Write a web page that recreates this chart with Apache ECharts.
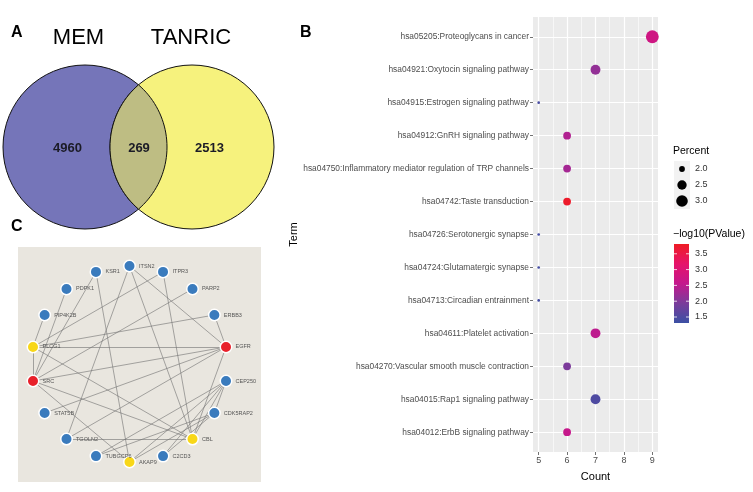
<!DOCTYPE html>
<html>
<head>
<meta charset="utf-8">
<script src="https://cdn.jsdelivr.net/npm/echarts@6/dist/echarts.min.js"></script>
<style>
  html, body { margin: 0; padding: 0; background: #fff; }
  #chart { width: 753px; height: 492px; }
</style>
</head>
<body>
<div id="chart"></div>
<script>
// --- A: Venn ---
const vennSets = ['MEM', 'TANRIC'];
const vennCounts = [4960, 269, 2513]; // MEM only, overlap, TANRIC only

// --- B: KEGG dot plot (top to bottom) ---
const terms = [
  'hsa05205:Proteoglycans in cancer',
  'hsa04921:Oxytocin signaling pathway',
  'hsa04915:Estrogen signaling pathway',
  'hsa04912:GnRH signaling pathway',
  'hsa04750:Inflammatory mediator regulation of TRP channels',
  'hsa04742:Taste transduction',
  'hsa04726:Serotonergic synapse',
  'hsa04724:Glutamatergic synapse',
  'hsa04713:Circadian entrainment',
  'hsa04611:Platelet activation',
  'hsa04270:Vascular smooth muscle contraction',
  'hsa04015:Rap1 signaling pathway',
  'hsa04012:ErbB signaling pathway'
];
const counts = [9, 7, 5, 6, 6, 6, 5, 5, 5, 7, 6, 7, 6];
const percents = [3.35, 2.60, 1.86, 2.23, 2.23, 2.23, 1.86, 1.86, 1.86, 2.60, 2.23, 2.60, 2.23];
const logP = [2.75, 2.15, 1.45, 2.4, 2.3, 3.75, 1.4, 1.4, 1.4, 2.5, 1.95, 1.5, 2.6];
const countTicks = [5, 6, 7, 8, 9];
const countMinor = [5.5, 6.5, 7.5, 8.5];
const percentBreaks = [2.0, 2.5, 3.0];
const logPBreaks = [1.5, 2.0, 2.5, 3.0, 3.5];

// --- C: network (order = clockwise from 3 o'clock) ---
const nodes = ['CEP250', 'CDK5RAP2', 'CBL', 'C2CD3', 'AKAP9', 'TUBGCP6', 'TGOLN2', 'STAT5B', 'SRC',
  'PLCG1', 'PIP4K2B', 'PDPK1', 'KSR1', 'ITSN2', 'ITPR3', 'PARP2', 'ERBB3', 'EGFR'];
const redNodes = ['EGFR', 'SRC'];
const yellowNodes = ['CBL', 'AKAP9', 'PLCG1'];
const links = [
  ['PLCG1', 'EGFR'], ['PLCG1', 'SRC'], ['PLCG1', 'PIP4K2B'], ['PLCG1', 'ERBB3'], ['PLCG1', 'ITPR3'], ['PLCG1', 'CBL'],
  ['SRC', 'EGFR'], ['SRC', 'CBL'], ['SRC', 'AKAP9'], ['SRC', 'PDPK1'], ['SRC', 'KSR1'], ['SRC', 'PARP2'],
  ['EGFR', 'ERBB3'], ['EGFR', 'ITSN2'], ['EGFR', 'STAT5B'], ['EGFR', 'TGOLN2'], ['EGFR', 'CBL'],
  ['ITSN2', 'CBL'], ['ITSN2', 'TGOLN2'], ['ITPR3', 'CBL'], ['KSR1', 'AKAP9'], ['TGOLN2', 'CBL'],
  ['CEP250', 'CDK5RAP2'], ['CEP250', 'CBL'], ['CEP250', 'C2CD3'], ['CEP250', 'AKAP9'], ['CEP250', 'TUBGCP6'],
  ['CDK5RAP2', 'AKAP9'], ['CDK5RAP2', 'TUBGCP6'], ['CDK5RAP2', 'C2CD3']
];

const font = 'Liberation Sans, Arial, sans-serif';
const pvalColors = ['#3b50a4', '#7a3c9b', '#c4188d', '#e6136a', '#ee1c24'];
const pvalMin = 1.31, pvalMax = 3.81;

const pMin = Math.min(...percents), pMax = Math.max(...percents);
function dotSize(p) {
  // ggplot scale_size area mapping, range 1..6
  const s = 1 + 5 * Math.sqrt(Math.max(0, (p - pMin) / (pMax - pMin)));
  return 2.05 * s + 0.6;
}

function txt(text, x, y, size, opts) {
  opts = opts || {};
  return {
    type: 'text', x: x, y: y, silent: true,
    style: {
      text: text, fill: opts.color || '#000',
      font: (opts.weight || 'normal') + ' ' + size + 'px ' + font,
      textAlign: opts.align || 'left', align: opts.align || 'left',
      textVerticalAlign: 'middle', verticalAlign: 'middle'
    }
  };
}

// Venn geometry: overlap lens as polygon along both arcs
const vy = 147, vr = 82, vxL = 85, vxR = 192;
const xm = (vxL + vxR) / 2;
const half = Math.acos((xm - vxL) / vr);
const lensPts = [];
for (let k = 0; k <= 40; k++) {
  const a = -half + 2 * half * k / 40;            // left circle, right side
  lensPts.push([vxL + vr * Math.cos(a), vy + vr * Math.sin(a)]);
}
for (let k = 0; k <= 40; k++) {
  const a = Math.PI - half + 2 * half * k / 40;   // right circle, left side
  lensPts.push([vxR + vr * Math.cos(a), vy + vr * Math.sin(a)]);
}

const graphics = [
  txt('A', 11, 33, 16, { weight: 'bold' }),
  txt('B', 300, 33, 16, { weight: 'bold' }),
  txt('C', 11, 227, 16, { weight: 'bold' }),
  txt(vennSets[0], 78.5, 38, 22, { align: 'center' }),
  txt(vennSets[1], 191, 38, 22, { align: 'center' }),
  { type: 'circle', shape: { cx: vxL, cy: vy, r: vr }, style: { fill: '#7575b9', stroke: '#111', lineWidth: 1 }, silent: true },
  { type: 'circle', shape: { cx: vxR, cy: vy, r: vr }, style: { fill: '#f6f27d', stroke: '#111', lineWidth: 1 }, silent: true },
  { type: 'polygon', shape: { points: lensPts }, style: { fill: '#bebd83', stroke: '#111', lineWidth: 1 }, silent: true },
  txt(String(vennCounts[0]), 67.5, 148, 13, { weight: 'bold', align: 'center', color: '#1b1b26' }),
  txt(String(vennCounts[1]), 139, 148, 13, { weight: 'bold', align: 'center', color: '#1b1b26' }),
  txt(String(vennCounts[2]), 209.5, 148, 13, { weight: 'bold', align: 'center', color: '#1b1b26' }),
  // network panel background
  { type: 'rect', shape: { x: 18, y: 247, width: 243, height: 235 }, style: { fill: '#e9e6df' }, silent: true },
  // size legend
  txt('Percent', 673, 151, 10.5)
];
percentBreaks.forEach((p, i) => {
  const cy = 169 + i * 16;
  graphics.push({ type: 'rect', shape: { x: 674, y: cy - 8, width: 16, height: 16 }, style: { fill: '#f2f2f2' }, silent: true });
  graphics.push({ type: 'circle', shape: { cx: 682, cy: cy, r: dotSize(p) / 2 }, style: { fill: '#000' }, silent: true });
  graphics.push(txt(p.toFixed(1), 695, cy, 9, { color: '#333' }));
});
// colour legend
const barX = 674, barTop = 244, barH = 79, barW = 15;
graphics.push(txt('\u2212log10(PValue)', 673, 234, 10.5));
graphics.push({
  type: 'rect', shape: { x: barX, y: barTop, width: barW, height: barH }, silent: true,
  style: {
    fill: {
      type: 'linear', x: 0, y: 1, x2: 0, y2: 0,
      colorStops: pvalColors.map((c, i) => ({ offset: i / (pvalColors.length - 1), color: c }))
    }
  }
});
logPBreaks.forEach(v => {
  const y = barTop + barH - (v - pvalMin) / (pvalMax - pvalMin) * barH;
  graphics.push({ type: 'line', shape: { x1: barX, y1: y, x2: barX + 3, y2: y }, style: { stroke: '#fff', lineWidth: 0.8 }, silent: true });
  graphics.push({ type: 'line', shape: { x1: barX + barW - 3, y1: y, x2: barX + barW, y2: y }, style: { stroke: '#fff', lineWidth: 0.8 }, silent: true });
  graphics.push(txt(v.toFixed(1), 695, y, 9, { color: '#333' }));
});

function nodeColor(n) {
  if (redNodes.includes(n)) return '#e8202a';
  if (yellowNodes.includes(n)) return '#f8d718';
  return '#3a7bbd';
}

const rowIdx = terms.map((_, i) => i);

const chart = echarts.init(document.getElementById('chart'));
chart.setOption({
  animation: false,
  textStyle: { fontFamily: font },
  graphic: { elements: graphics },
  grid: {
    left: 533, right: 95, top: 17, bottom: 40,
    show: true, backgroundColor: '#ebebeb', borderWidth: 0,
    containLabel: false, outerBoundsMode: 'none'
  },
  xAxis: [{
    type: 'value', min: 4.8, max: 9.2, position: 'bottom',
    axisLine: { show: false, onZero: false },
    axisTick: { show: true, length: 3, lineStyle: { color: '#333', width: 0.7 }, customValues: countTicks },
    axisLabel: { customValues: countTicks, color: '#4d4d4d', fontSize: 9, margin: 4 },
    splitLine: { show: true, lineStyle: { color: '#fff', width: 1.2 } },
    name: 'Count', nameLocation: 'middle', nameGap: 19, nameMoveOverlap: false,
    nameTextStyle: { color: '#000', fontSize: 11 }
  }, {
    type: 'value', min: 4.8, max: 9.2, position: 'bottom',
    axisLine: { show: false, onZero: false },
    axisTick: { show: false, customValues: countMinor },
    axisLabel: { show: false, customValues: countMinor },
    splitLine: { show: true, lineStyle: { color: '#fff', width: 0.6 } }
  }],
  yAxis: {
    type: 'value', inverse: true, min: -0.6, max: terms.length - 0.4,
    axisLine: { show: false, onZero: false },
    axisTick: { show: true, length: 3, lineStyle: { color: '#333', width: 0.7 }, customValues: rowIdx },
    axisLabel: {
      customValues: rowIdx, color: '#4d4d4d', fontSize: 8.4, margin: 4,
      formatter: v => terms[Math.round(v)]
    },
    splitLine: { show: true, lineStyle: { color: '#fff', width: 1.2 } },
    name: 'Term', nameLocation: 'middle', nameGap: 234, nameMoveOverlap: false,
    nameTextStyle: { color: '#000', fontSize: 11 }
  },
  visualMap: {
    show: false, type: 'continuous', seriesIndex: 0, dimension: 3,
    min: pvalMin, max: pvalMax, inRange: { color: pvalColors }
  },
  series: [{
    type: 'scatter',
    xAxisIndex: 0,
    data: terms.map((t, i) => [counts[i], i, percents[i], logP[i]]),
    symbolSize: v => dotSize(v[2]),
    itemStyle: { opacity: 1 },
    z: 3
  }, {
    type: 'graph', layout: 'circular',
    left: 31.5, top: 266, width: 196, height: 196,
    symbolSize: 11.5, roam: false,
    circular: { rotateLabel: false },
    data: nodes.map(n => ({ name: n, itemStyle: { color: nodeColor(n) } })),
    links: links.map(l => ({ source: l[0], target: l[1] })),
    itemStyle: { borderColor: '#fff', borderWidth: 1.5 },
    label: { show: true, position: 'right', distance: 3, fontSize: 5.5, color: '#555', fontFamily: font },
    lineStyle: { color: '#707070', width: 0.6, opacity: 1, curveness: 0 },
    emphasis: { disabled: true }
  }]
});
</script>
</body>
</html>
